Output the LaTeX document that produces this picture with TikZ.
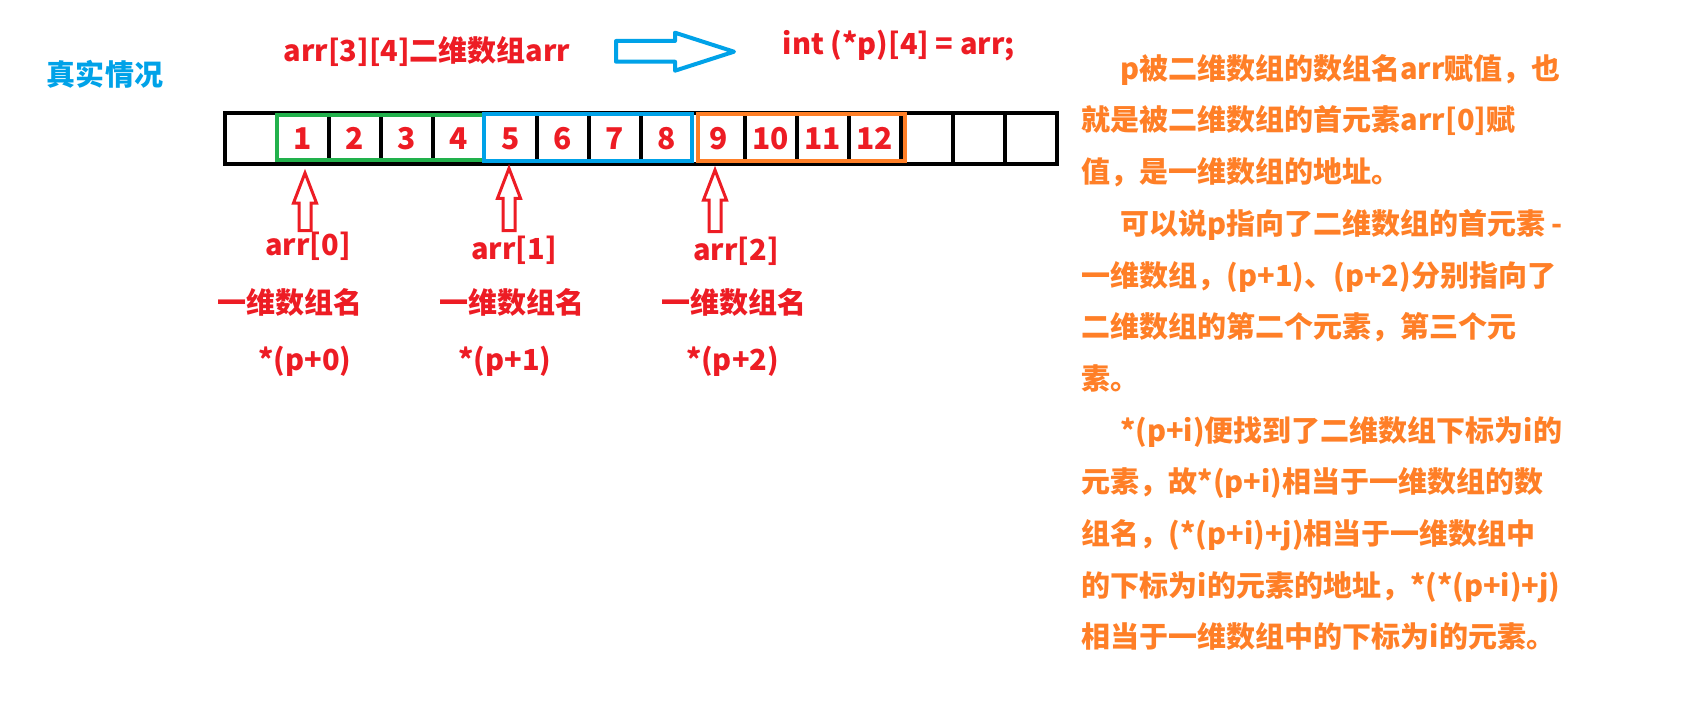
\documentclass[tikz,border=0pt]{standalone}
\usepackage{fontspec}
\setmainfont{Noto Sans CJK SC}
\definecolor{myred}{HTML}{ED1C24}
\definecolor{myorange}{HTML}{FF7F27}
\definecolor{myblue}{HTML}{00A2E8}
\definecolor{mygreen}{HTML}{22B14C}
\begin{document}
\begin{tikzpicture}[x=1bp,y=-1bp,
  txt/.style={inner sep=0pt, font=\fontsize{29bp}{35bp}\selectfont\bfseries},
  lbl/.style={txt, text=myred, anchor=base},
  note/.style={txt, text=myorange, anchor=base west},
  num/.style={inner sep=0pt, text=myred, font=\fontsize{30bp}{36bp}\selectfont\bfseries},
  gridline/.style={line width=4bp, draw=black},
  groupbox/.style={line width=4bp},
  hollowup/.style={draw=myred, line width=3bp, fill=white, line join=miter},
  hollowright/.style={draw=myblue, line width=4bp, fill=white, line join=round}
]
\useasboundingbox (0,0) rectangle (1695,725);

% title row
\node[txt, text=myblue, anchor=base] (real) at (105,86) {真实情况};
\node[lbl] (decl) at (427,61.5) {arr[3][4]二维数组arr};
\draw[hollowright] (616,41) -- (675,41) -- (675,32.7) -- (734,51.7) -- (675,70.7) -- (675,61.7) -- (616,61.7) -- cycle;
\node[lbl, anchor=base west] (ptr) at (782.7,55) {int (*p)[4] = arr;};

% memory cells
\draw[gridline] (224.5,113) rectangle (1056.5,164);
\foreach \k in {2,3,4,6,7,8,10,11,12,13,14,15}
  \draw[gridline] (224.5+52*\k,113) -- (224.5+52*\k,164);
\draw[groupbox, mygreen] (277,114.7) rectangle (484,160);
\draw[groupbox, myblue] (484,114) rectangle (692,161);
\draw[groupbox, myorange] (698,114.5) rectangle (905.3,161);
\foreach \i in {1,...,12}
  \node[num] (n\i) at (224.5+52*\i+26,138.5) {\i};

% red hollow arrows
\foreach \x/\t/\b in {305/173/230.7, 509/168.3/230.7, 715/170/231.7}
  \draw[hollowup] (\x,\t) -- (\x+11.5,\t+30) -- (\x+6,\t+30) -- (\x+6,\b) -- (\x-6,\b) -- (\x-6,\t+30) -- (\x-11.5,\t+30) -- cycle;

% labels
\node[lbl] (a0) at (308,255) {arr[0]};
\node[lbl] (a1) at (514,259) {arr[1]};
\node[lbl] (a2) at (736,260) {arr[2]};
\node[lbl] (m0) at (290,313) {一维数组名};
\node[lbl] (m1) at (512,313) {一维数组名};
\node[lbl] (m2) at (734,313) {一维数组名};
\node[lbl] (p0) at (305,370) {*(p+0)};
\node[lbl] (p1) at (505,370) {*(p+1)};
\node[lbl] (p2) at (732.5,370) {*(p+2)};

% explanation text
\node[note] (t1) at (1120,79.3) {p被二维数组的数组名arr赋值，也};
\node[note] (t2) at (1081.7,131) {就是被二维数组的首元素arr[0]赋};
\node[note] (t3) at (1081.7,182.6) {值，是一维数组的地址。};
\node[note] (t4) at (1120,234.3) {可以说p指向了二维数组的首元素 -};
\node[note] (t5) at (1081.7,286) {一维数组，(p+1)、(p+2)分别指向了};
\node[note] (t6) at (1081.7,337.6) {二维数组的第二个元素，第三个元};
\node[note] (t7) at (1081.7,389.3) {素。};
\node[note] (t8) at (1120,441) {*(p+i)便找到了二维数组下标为i的};
\node[note] (t9) at (1081.7,492.7) {元素，故*(p+i)相当于一维数组的数};
\node[note] (t10) at (1081.7,544.3) {组名，(*(p+i)+j)相当于一维数组中};
\node[note] (t11) at (1081.7,596) {的下标为i的元素的地址，*(*(p+i)+j)};
\node[note] (t12) at (1081.7,647.7) {相当于一维数组中的下标为i的元素。};
\end{tikzpicture}
\end{document}
